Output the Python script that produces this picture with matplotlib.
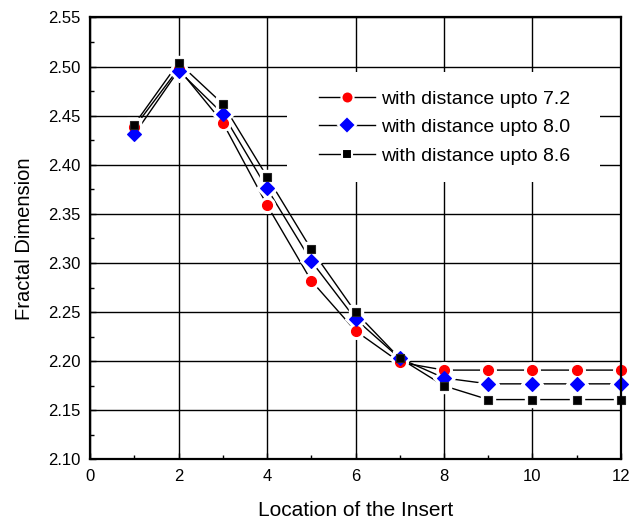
import matplotlib
matplotlib.use("Agg")
import matplotlib.pyplot as plt
from matplotlib.lines import Line2D
from matplotlib.patches import Rectangle
from matplotlib.ticker import MultipleLocator, FormatStrFormatter

plt.rcParams['font.family'] = ['Liberation Sans', 'DejaVu Sans']

location = [1, 2, 3, 4, 5, 6, 7, 8, 9, 10, 11, 12]
fd_72 = [2.438, 2.498, 2.443, 2.359, 2.282, 2.231, 2.199, 2.191, 2.191, 2.191, 2.191, 2.191]
fd_80 = [2.431, 2.496, 2.452, 2.376, 2.302, 2.243, 2.203, 2.183, 2.177, 2.177, 2.177, 2.177]
fd_86 = [2.441, 2.504, 2.462, 2.388, 2.314, 2.250, 2.203, 2.175, 2.161, 2.161, 2.161, 2.161]
labels = ["with distance upto 7.2", "with distance upto 8.0", "with distance upto 8.6"]

styles = [
    dict(marker='o', color='#ff0000', ms=7.2),
    dict(marker='D', color='#0000ff', ms=7.5),
    dict(marker='s', color='#000000', ms=5.5),
]

fig = plt.figure(figsize=(6.3, 5.25), dpi=100)
ax = fig.add_axes([0.1429, 0.1248, 0.8428, 0.8419])

series = [fd_72, fd_80, fd_86]
for ys in series:
    ax.plot(location, ys, color='black', lw=1.0, zorder=3)
for ys, st in zip(series, styles):
    ax.plot(location, ys, ls='none', marker=st['marker'], ms=st['ms'] + 4,
            mfc='white', mec='white', zorder=4)
for ys, st in zip(series, styles):
    ax.plot(location, ys, ls='none', marker=st['marker'], ms=st['ms'],
            mfc=st['color'], mec=st['color'] if st['color'] != '#000000' else '#222222',
            mew=0.8, zorder=5, clip_on=False)

ax.set_xlim(0, 12)
ax.set_ylim(2.10, 2.55)
ax.xaxis.set_major_locator(MultipleLocator(2))
ax.xaxis.set_minor_locator(MultipleLocator(1))
ax.yaxis.set_major_locator(MultipleLocator(0.05))
ax.yaxis.set_minor_locator(MultipleLocator(0.025))
ax.yaxis.set_major_formatter(FormatStrFormatter('%.2f'))
ax.grid(True, which='major', color='black', lw=1.0, zorder=1)
ax.tick_params(which='both', direction='in', labelsize=12, top=False, right=False, pad=7)
ax.tick_params(which='major', length=4, width=1)
ax.tick_params(which='minor', length=3, width=1)
for s in ax.spines.values():
    s.set_linewidth(1.6)
    s.set_zorder(6)

ax.set_xlabel("Location of the Insert", fontsize=15, labelpad=12)
ax.set_ylabel("Fractal Dimension", fontsize=14.5, labelpad=10)

# white panel behind the legend
ax.add_patch(Rectangle((0.371, 0.628), 0.589, 0.249, transform=ax.transAxes,
                       facecolor='white', edgecolor='none', zorder=2))

handles = [Line2D([], [], color='black', lw=1.0, marker=st['marker'],
                  ms=st['ms'] + 1.5, mfc=st['color'], mec='white', mew=1.5)
           for st in styles]
leg = ax.legend(handles, labels, loc='upper left', bbox_to_anchor=(0.431, 0.836),
                frameon=False, fontsize=14, handlelength=2.9, handletextpad=0.3,
                labelspacing=0.56, borderpad=0.0, borderaxespad=0.0)
leg.set_zorder(7)

fig.savefig("out.png", dpi=100)
